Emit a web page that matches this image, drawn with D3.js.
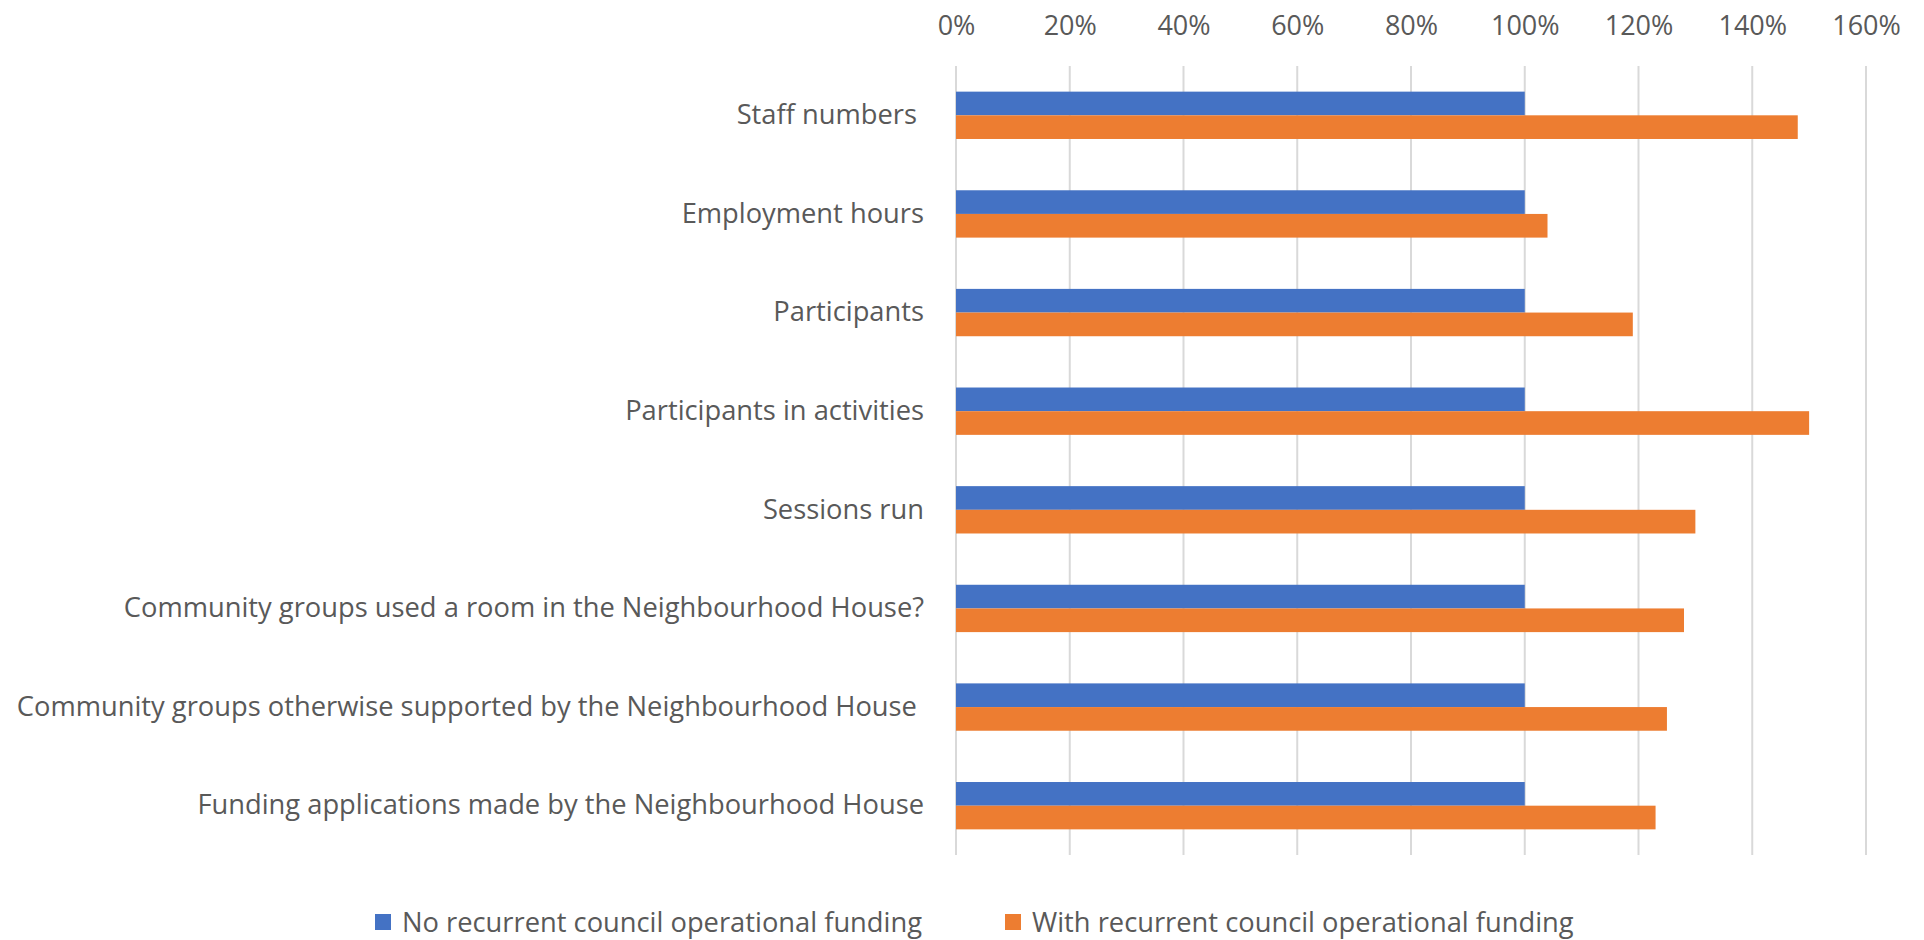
<!DOCTYPE html>
<html>
<head>
<meta charset="utf-8">
<script src="https://cdn.jsdelivr.net/npm/d3@7"></script>
<style>
  html, body { margin: 0; padding: 0; background: #fff; }
  svg text { font-family: "Open Sans", sans-serif; fill: #595959; }
</style>
</head>
<body>
<div id="chart"></div>
<script>
const categories = [
  "Staff numbers ",
  "Employment hours",
  "Participants",
  "Participants in activities",
  "Sessions run",
  "Community groups used a room in the Neighbourhood House?",
  "Community groups otherwise supported by the Neighbourhood House ",
  "Funding applications made by the Neighbourhood House"
];
const seriesNames = [
  "No recurrent council operational funding",
  "With recurrent council operational funding"
];
const noFunding = [1, 1, 1, 1, 1, 1, 1, 1];
const withFunding = [1.48, 1.04, 1.19, 1.50, 1.30, 1.28, 1.25, 1.23];
const tickValues = [0, 0.2, 0.4, 0.6, 0.8, 1.0, 1.2, 1.4, 1.6];
const colors = ["#4472C4", "#ED7D31"];

const width = 1924, height = 940;
const margin = {top: 66, right: 58, bottom: 85, left: 956};
const innerW = width - margin.left - margin.right;
const innerH = height - margin.top - margin.bottom;

const svg = d3.select('#chart')
  .append('svg')
  .attr('width', width)
  .attr('height', height);

const g = svg.append('g')
  .attr('transform', `translate(${margin.left}, ${margin.top})`);

const x = d3.scaleLinear().domain([0, 1.6]).range([0, innerW]);
const y = d3.scaleBand().domain(categories).range([0, innerH])
  .paddingInner(0.52).paddingOuter(0.26);
const ySeries = d3.scaleBand().domain(seriesNames).range([0, y.bandwidth()]);
const color = d3.scaleOrdinal().domain(seriesNames).range(colors);

// gridlines
g.selectAll('.grid')
  .data(tickValues)
  .enter()
  .append('line')
  .attr('class', 'grid')
  .attr('x1', d => x(d))
  .attr('x2', d => x(d))
  .attr('y1', 0)
  .attr('y2', innerH)
  .attr('stroke', '#d9d9d9')
  .attr('stroke-width', 2);

// top axis
const xAxis = g.append('g')
  .call(d3.axisTop(x).tickValues(tickValues).tickFormat(d3.format('.0%')).tickSize(0).tickPadding(31));
xAxis.select('.domain').remove();
xAxis.selectAll('text').attr('font-size', 27).attr('font-family', null);

// category axis
const yAxis = g.append('g')
  .call(d3.axisLeft(y).tickSize(0).tickPadding(32));
yAxis.select('.domain').remove();
yAxis.selectAll('text')
  .attr('font-size', 27.3)
  .attr('font-family', null)
  .style('white-space', 'pre');

// bars
const rows = categories.map((c, i) => ({
  category: c,
  values: [
    {series: seriesNames[0], value: noFunding[i]},
    {series: seriesNames[1], value: withFunding[i]}
  ]
}));

const groups = g.selectAll('.row')
  .data(rows)
  .enter()
  .append('g')
  .attr('class', 'row')
  .attr('transform', d => `translate(0, ${y(d.category)})`);

groups.selectAll('rect')
  .data(d => d.values)
  .enter()
  .append('rect')
  .attr('x', x(0))
  .attr('y', d => ySeries(d.series))
  .attr('width', d => x(d.value) - x(0))
  .attr('height', ySeries.bandwidth())
  .attr('fill', d => color(d.series));

// legend
const legendX = [375, 1005];
const legend = svg.selectAll('.legend')
  .data(seriesNames)
  .enter()
  .append('g')
  .attr('class', 'legend')
  .attr('transform', (d, i) => `translate(${legendX[i]}, 914)`);

legend.append('rect')
  .attr('width', 16)
  .attr('height', 16)
  .attr('fill', d => color(d));

legend.append('text')
  .attr('x', 27)
  .attr('y', 8)
  .attr('dy', '0.35em')
  .attr('font-size', 27.3)
  .text(d => d);
</script>
</body>
</html>
